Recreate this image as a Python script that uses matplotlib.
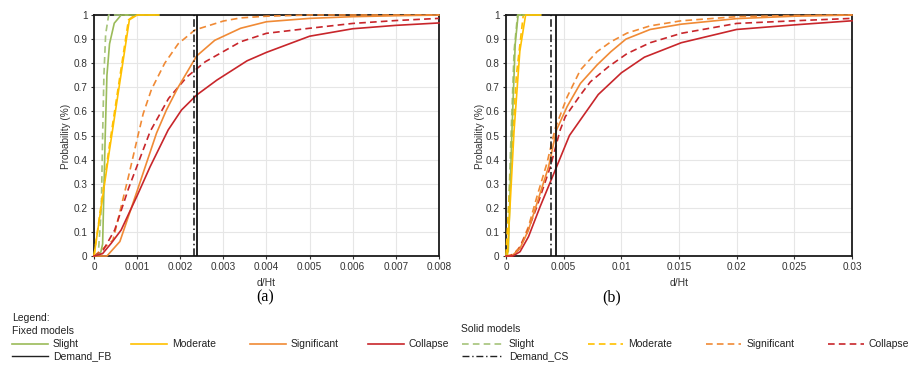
import numpy as np
import matplotlib
matplotlib.use('Agg')
import matplotlib.pyplot as plt
from matplotlib.lines import Line2D

plt.rcParams['font.family'] = ['Liberation Sans', 'DejaVu Sans']

# ---- panel (a): fixed models (solid lines) ----
fa_slight_x = [0, 0.00015, 0.0002, 0.00026, 0.0003, 0.00036, 0.00047, 0.00063, 0.0015]
fa_slight_p = [0, 0.01, 0.05, 0.5, 0.75, 0.88, 0.966, 1.0, 1.0]
fa_moderate_x = [0, 0.00036, 0.00082, 0.001, 0.0015]
fa_moderate_p = [0, 0.44, 0.98, 1.0, 1.0]
fa_significant_x = [0, 0.0003, 0.0006, 0.001, 0.00145, 0.00168, 0.00195, 0.00238, 0.0028,
                    0.0034, 0.004, 0.005, 0.006, 0.007, 0.008]
fa_significant_p = [0, 0.0, 0.06, 0.27, 0.51, 0.606, 0.70, 0.83, 0.895,
                    0.945, 0.972, 0.986, 0.993, 0.997, 1.0]
fa_collapse_x = [0, 0.0002, 0.0004, 0.00063, 0.001, 0.0013, 0.00172, 0.00203, 0.00238, 0.00285,
                 0.00355, 0.004, 0.005, 0.006, 0.007, 0.008]
fa_collapse_p = [0, 0.01, 0.053, 0.108, 0.25, 0.37, 0.523, 0.606, 0.668, 0.73,
                 0.81, 0.845, 0.912, 0.943, 0.957, 0.967]
fa_demand = 0.0024

# ---- panel (a): solid models (dashed lines) ----
sa_slight_x = [0, 0.0001, 0.00017, 0.0002, 0.00023, 0.00027, 0.00034, 0.0008]
sa_slight_p = [0, 0.01, 0.2, 0.5, 0.75, 0.92, 1.0, 1.0]
sa_moderate_x = [0, 0.00035, 0.0008, 0.00095, 0.0015]
sa_moderate_p = [0, 0.45, 0.98, 1.0, 1.0]
sa_significant_x = [0, 0.00017, 0.00044, 0.0008, 0.00102, 0.00114, 0.00133, 0.00164, 0.00195,
                    0.00234, 0.003, 0.0034, 0.004, 0.005, 0.008]
sa_significant_p = [0, 0.025, 0.066, 0.33, 0.50, 0.59, 0.69, 0.80, 0.88,
                    0.938, 0.975, 0.988, 0.995, 1.0, 1.0]
sa_collapse_x = [0, 0.0002, 0.00048, 0.0008, 0.0013, 0.00173, 0.00216, 0.00258, 0.0034,
                 0.004, 0.005, 0.006, 0.007, 0.008]
sa_collapse_p = [0, 0.02, 0.108, 0.28, 0.516, 0.654, 0.744, 0.806, 0.889,
                 0.924, 0.945, 0.965, 0.977, 0.986]
sa_demand = 0.00232

# ---- panel (b): fixed models ----
fb_slight_x = [0, 0.0002, 0.0005, 0.0008, 0.00105, 0.003]
fb_slight_p = [0, 0.02, 0.5, 0.88, 1.0, 1.0]
fb_moderate_x = [0, 0.00012, 0.0007, 0.0012, 0.0017, 0.003]
fb_moderate_p = [0, 0.0, 0.52, 0.85, 1.0, 1.0]
fb_significant_x = [0, 0.0005, 0.00122, 0.00195, 0.00268, 0.00369, 0.00438, 0.0053, 0.00645,
                    0.0079, 0.0091, 0.0104, 0.0125, 0.0152, 0.02, 0.025, 0.03]
fb_significant_p = [0, 0, 0.032, 0.108, 0.218, 0.37, 0.523, 0.62, 0.716,
                    0.793, 0.848, 0.9, 0.94, 0.962, 0.985, 0.995, 1.0]
fb_collapse_x = [0, 0.0006, 0.00122, 0.00195, 0.00296, 0.0043, 0.0055, 0.0066, 0.008,
                 0.01, 0.012, 0.0152, 0.02, 0.025, 0.03]
fb_collapse_p = [0, 0, 0.018, 0.08, 0.205, 0.36, 0.5, 0.575, 0.67,
                 0.76, 0.825, 0.885, 0.94, 0.959, 0.976]
fb_demand = 0.00433

# ---- panel (b): solid models ----
sb_slight_x = [0, 0.0001, 0.0004, 0.0007, 0.001, 0.003]
sb_slight_p = [0, 0.02, 0.45, 0.85, 1.0, 1.0]
sb_moderate_x = [0, 0.00005, 0.0004, 0.0009, 0.0015, 0.003]
sb_moderate_p = [0, 0.05, 0.35, 0.75, 1.0, 1.0]
sb_significant_x = [0, 0.00064, 0.00122, 0.00195, 0.00268, 0.00355, 0.00427, 0.0053, 0.00645,
                    0.0079, 0.0091, 0.0105, 0.0125, 0.0152, 0.02, 0.025, 0.03]
sb_significant_p = [0, 0.007, 0.039, 0.122, 0.246, 0.385, 0.53, 0.66, 0.772,
                    0.848, 0.889, 0.925, 0.955, 0.976, 0.993, 0.998, 1.0]
sb_collapse_x = [0, 0.0004, 0.00107, 0.0018, 0.00268, 0.00384, 0.0047, 0.00514, 0.00645,
                 0.00732, 0.0089, 0.0105, 0.0125, 0.0152, 0.02, 0.025, 0.03]
sb_collapse_p = [0, 0, 0.025, 0.094, 0.205, 0.37, 0.523, 0.578, 0.668,
                 0.723, 0.786, 0.84, 0.885, 0.924, 0.965, 0.976, 0.986]
sb_demand = 0.00392

states = ['Slight', 'Moderate', 'Significant', 'Collapse']
colors = ['#9bbb59', '#ffc000', '#f08a35', '#c8262b']
dash_colors = ['#a6c47a', '#ffc000', '#f08a35', '#c8262b']
y_ticks = [0, 0.1, 0.2, 0.3, 0.4, 0.5, 0.6, 0.7, 0.8, 0.9, 1.0]
y_labels = ['0', '0.1', '0.2', '0.3', '0.4', '0.5', '0.6', '0.7', '0.8', '0.9', '1']
a_ticks = [0, 0.001, 0.002, 0.003, 0.004, 0.005, 0.006, 0.007, 0.008]
a_labels = ['0', '0.001', '0.002', '0.003', '0.004', '0.005', '0.006', '0.007', '0.008']
b_ticks = [0, 0.005, 0.01, 0.015, 0.02, 0.025, 0.03]
b_labels = ['0', '0.005', '0.01', '0.015', '0.02', '0.025', '0.03']

W, H = 912, 365
DASH = (0, (4, 2.5))
DASHDOT = (0, (5, 2, 1, 2))


def fx(px):
    return px / W


def fy(py):
    return 1 - py / H


def panel(ax, fixed, solid, fdem, sdem, ticks, labels):
    ax.set_xlim(ticks[0], ticks[-1])
    ax.set_ylim(0, 1)
    ax.set_xticks(ticks)
    ax.set_xticklabels(labels)
    ax.set_yticks(y_ticks)
    ax.set_yticklabels(y_labels)
    ax.grid(True, color='#e6e6e6', lw=0.8)
    ax.set_axisbelow(True)
    for s in ax.spines.values():
        s.set_color('#1a1a1a')
        s.set_linewidth(1.3)
    ax.tick_params(length=2.5, width=0.8, labelsize=7.2, colors='#333333', pad=2)
    for (x, p), c in zip(solid, dash_colors):
        ax.plot(x, p, color=c, lw=1.2, ls=DASH, zorder=3, clip_on=False)
    for (x, p), c in zip(fixed, colors):
        ax.plot(x, p, color=c, lw=1.2, zorder=3.2, clip_on=False)
    ax.axvline(sdem, color='#111111', lw=1.1, ls=DASHDOT, zorder=4)
    ax.axvline(fdem, color='#111111', lw=1.3, zorder=4)


fig = plt.figure(figsize=(W / 100, H / 100), dpi=100)
ax_a = fig.add_axes([fx(94), fy(256), (439 - 94) / W, 241 / H])
ax_b = fig.add_axes([fx(506), fy(256), (852 - 506) / W, 241 / H])

panel(ax_a,
      [(fa_slight_x, fa_slight_p), (fa_moderate_x, fa_moderate_p),
       (fa_significant_x, fa_significant_p), (fa_collapse_x, fa_collapse_p)],
      [(sa_slight_x, sa_slight_p), (sa_moderate_x, sa_moderate_p),
       (sa_significant_x, sa_significant_p), (sa_collapse_x, sa_collapse_p)],
      fa_demand, sa_demand, a_ticks, a_labels)
panel(ax_b,
      [(fb_slight_x, fb_slight_p), (fb_moderate_x, fb_moderate_p),
       (fb_significant_x, fb_significant_p), (fb_collapse_x, fb_collapse_p)],
      [(sb_slight_x, sb_slight_p), (sb_moderate_x, sb_moderate_p),
       (sb_significant_x, sb_significant_p), (sb_collapse_x, sb_collapse_p)],
      fb_demand, sb_demand, b_ticks, b_labels)

# axis titles
for xc, yl in [(66, 'Probability (%)'), (480, 'Probability (%)')]:
    fig.text(fx(xc), fy(136), yl, rotation=90, ha='center', va='center',
             fontsize=7.2, color='#333333')
for xc in [266, 679]:
    fig.text(fx(xc), fy(283), 'd/Ht', ha='center', va='center', fontsize=7.5, color='#333333')
fig.text(fx(265), fy(297), '(a)', ha='center', va='center', fontsize=11.5,
         family=['Liberation Serif', 'DejaVu Serif'])
fig.text(fx(612), fy(297), '(b)', ha='center', va='center', fontsize=11.5,
         family=['Liberation Serif', 'DejaVu Serif'])

# legend block
txt = dict(fontsize=7.5, color='#222222', va='center', ha='left')
fig.text(fx(12), fy(318), 'Legend:', **txt)
fig.text(fx(12), fy(331), 'Fixed models', **txt)
fig.text(fx(461), fy(329), 'Solid models', **txt)

row1, row2 = 344, 356
fixed_pos = [(12, 48, 53), (131, 167, 172), (250, 286, 291), (368, 404, 409)]
solid_pos = [(462, 503, 509), (588, 623, 628), (706, 741, 747), (828, 864, 869)]
for st, c, (x0, x1, xt) in zip(states, colors, fixed_pos):
    fig.add_artist(Line2D([fx(x0), fx(x1)], [fy(row1)] * 2, color=c, lw=1.2))
    fig.text(fx(xt), fy(row1), st, **txt)
for st, c, (x0, x1, xt) in zip(states, dash_colors, solid_pos):
    fig.add_artist(Line2D([fx(x0), fx(x1)], [fy(row1)] * 2, color=c, lw=1.2, ls=DASH))
    fig.text(fx(xt), fy(row1), st, **txt)
fig.add_artist(Line2D([fx(12), fx(48)], [fy(row2)] * 2, color='#222222', lw=1.0))
fig.text(fx(53), fy(row2), 'Demand_FB', **txt)
fig.add_artist(Line2D([fx(462), fx(503)], [fy(row2)] * 2, color='#222222', lw=1.0, ls=DASHDOT))
fig.text(fx(509), fy(row2), 'Demand_CS', **txt)

fig.savefig('out.png', dpi=100)
